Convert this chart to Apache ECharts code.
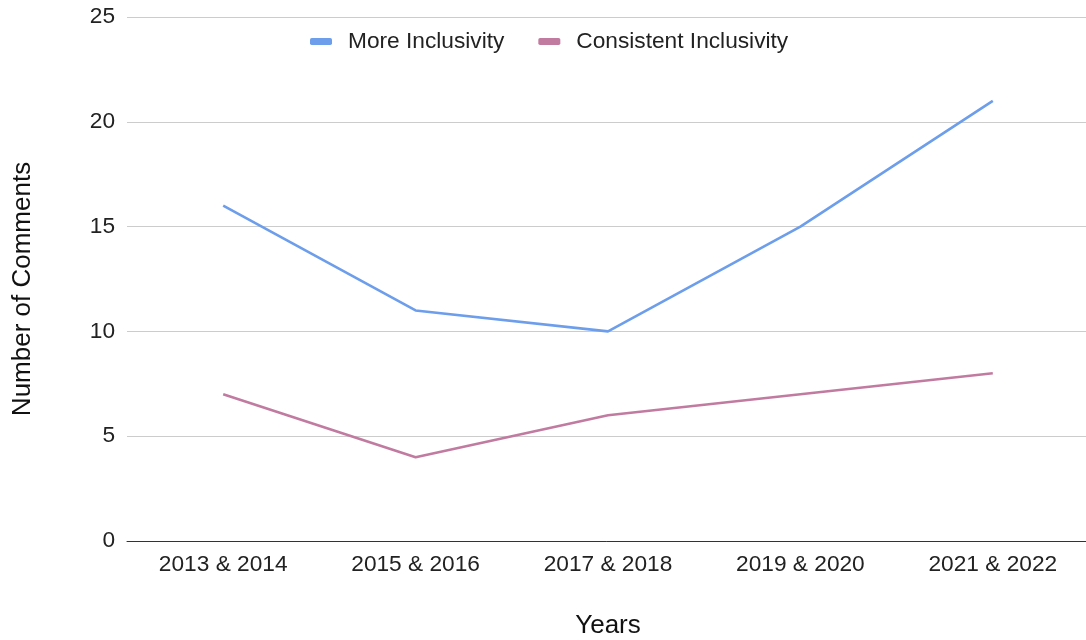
<!DOCTYPE html>
<html>
<head>
<meta charset="utf-8">
<script src="https://cdn.jsdelivr.net/npm/echarts@6/dist/echarts.min.js"></script>
<style>
html,body{margin:0;padding:0;background:#fff;}
#chart{width:1086px;height:640px;}
</style>
</head>
<body>
<div id="chart"></div>
<script>
const categories = ['2013 & 2014', '2015 & 2016', '2017 & 2018', '2019 & 2020', '2021 & 2022'];
const moreInclusivity = [16, 11, 10, 15, 21];
const consistentInclusivity = [7, 4, 6, 7, 8];
const yTicks = { min: 0, max: 25, interval: 5 };

const font = 'Liberation Sans, Arial, sans-serif';
const chart = echarts.init(document.getElementById('chart'), null, { renderer: 'canvas' });
chart.setOption({
  animation: false,
  backgroundColor: '#ffffff',
  textStyle: { fontFamily: font },
  legend: {
    top: 25,
    left: 305,
    itemWidth: 22,
    itemHeight: 7,
    itemGap: 34,
    icon: 'roundRect',
    textStyle: { fontSize: 22.7, color: '#222', fontFamily: font, padding: [0, 0, 0, 11] },
    data: ['More Inclusivity', 'Consistent Inclusivity']
  },
  grid: {
    left: 127, right: -3, top: 17, bottom: 99,
    containLabel: false,
    outerBoundsMode: 'none'
  },
  xAxis: {
    type: 'category',
    data: categories,
    boundaryGap: true,
    name: 'Years',
    nameLocation: 'middle',
    nameGap: 72,
    nameTextStyle: { fontSize: 26, color: '#111', fontFamily: font },
    axisLine: { lineStyle: { color: '#333', width: 1 } },
    axisTick: { show: false },
    axisLabel: { fontSize: 22.7, color: '#222', margin: 12, fontFamily: font }
  },
  yAxis: {
    type: 'value',
    min: yTicks.min,
    max: yTicks.max,
    interval: yTicks.interval,
    name: 'Number of Comments',
    nameLocation: 'middle',
    nameGap: 91,
    nameTextStyle: { fontSize: 26, color: '#111', fontFamily: font, padding: [0, 20, 0, 0] },
    axisLine: { show: false },
    axisTick: { show: false },
    axisLabel: { fontSize: 22.7, color: '#222', margin: 12, fontFamily: font },
    splitLine: { lineStyle: { color: '#cccccc', width: 1 } }
  },
  series: [
    {
      name: 'More Inclusivity',
      type: 'line',
      data: moreInclusivity,
      showSymbol: false,
      color: '#6d9eeb',
      lineStyle: { width: 2.6, color: '#6d9eeb' }
    },
    {
      name: 'Consistent Inclusivity',
      type: 'line',
      data: consistentInclusivity,
      showSymbol: false,
      color: '#c27ba0',
      lineStyle: { width: 2.6, color: '#c27ba0' }
    }
  ]
});
</script>
</body>
</html>
